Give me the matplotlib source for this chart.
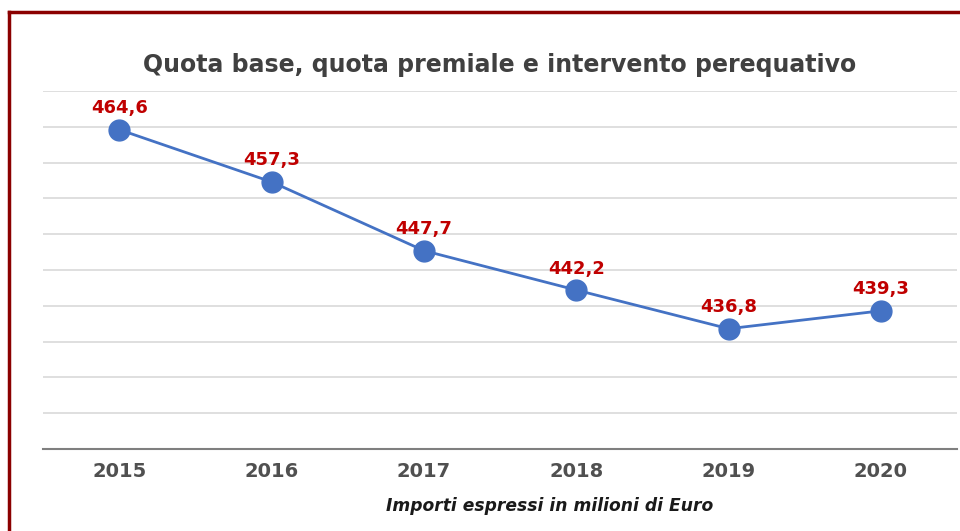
import matplotlib.pyplot as plt
from matplotlib.lines import Line2D

# Quota base + premiale + perequativo, milioni di euro
anni = ['2015', '2016', '2017', '2018', '2019', '2020']
importi = [464.6, 457.3, 447.7, 442.2, 436.8, 439.3]
etichette = ['464,6', '457,3', '447,7', '442,2', '436,8', '439,3']

fig = plt.figure(figsize=(9.6, 5.31), dpi=100)
ax = fig.add_axes([0.045, 0.1544, 0.952, 0.6742])

x = list(range(len(anni)))
ax.plot(x, importi, color='#4472C4', linewidth=2, marker='o',
        markersize=15, markerfacecolor='#4472C4', markeredgecolor='#4472C4', zorder=3)

for xi, v, t in zip(x, importi, etichette):
    ax.annotate(t, (xi, v), xytext=(0, 9), textcoords='offset points',
                ha='center', va='bottom', fontsize=13, fontweight='bold',
                color='#C00000', zorder=4)

ax.set_xlim(-0.5, len(anni) - 0.5)
ax.set_ylim(420, 470)
ax.set_yticks(range(420, 471, 5))
ax.set_yticklabels([])
ax.tick_params(axis='y', length=0)
ax.set_xticks(x)
ax.set_xticklabels(anni, fontsize=14, fontweight='bold', color='#505050')
ax.tick_params(axis='x', length=0, pad=9)
ax.grid(axis='y', color='#d9d9d9', linewidth=1.2)
ax.set_axisbelow(True)
for s in ['top', 'right', 'left']:
    ax.spines[s].set_visible(False)
ax.spines['bottom'].set_color('#7f7f7f')
ax.spines['bottom'].set_linewidth(1.5)

fig.text(0.52, 0.877, 'Quota base, quota premiale e intervento perequativo',
         ha='center', va='center', fontsize=17, fontweight='bold', color='#404040')
fig.text(0.573, 0.048, 'Importi espressi in milioni di Euro', ha='center', va='center',
         fontsize=12.3, fontweight='bold', fontstyle='italic', color='#1a1a1a')

# cornice rossa
fig.add_artist(Line2D([0.0095, 0.0095], [0, 0.977], color='#8B0000', linewidth=2.5))
fig.add_artist(Line2D([0.0095, 1.0], [0.977, 0.977], color='#8B0000', linewidth=2.5))

fig.savefig('out.png', dpi=100)
